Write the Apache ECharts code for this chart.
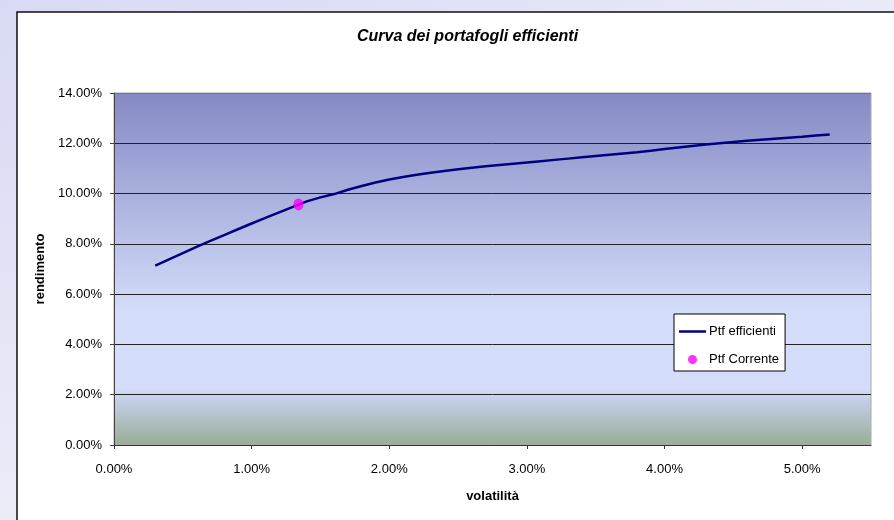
<!DOCTYPE html>
<html>
<head>
<meta charset="utf-8">
<script src="https://cdn.jsdelivr.net/npm/echarts@6/dist/echarts.min.js"></script>
<style>
  html, body { margin: 0; padding: 0; }
  #chart { width: 894px; height: 520px; }
</style>
</head>
<body>
<div id="chart"></div>
<script>
// frontiera efficiente (valori in %)
var volatilita = [0.3, 0.4, 0.5, 0.6, 0.7, 0.8, 0.9, 1.0, 1.1, 1.2, 1.3, 1.4, 1.5, 1.6, 1.7, 1.8, 1.9, 2.0,
  2.1, 2.2, 2.3, 2.4, 2.5, 2.6, 2.7, 2.8, 2.9, 3.0, 3.1, 3.2, 3.3, 3.4, 3.5, 3.6, 3.7, 3.8, 3.9, 4.0,
  4.1, 4.2, 4.3, 4.4, 4.5, 4.6, 4.7, 4.8, 4.9, 5.0, 5.1, 5.2];
var rendimento = [7.13, 7.38, 7.63, 7.88, 8.12, 8.35, 8.58, 8.81, 9.03, 9.25, 9.47, 9.69, 9.85, 9.98, 10.15, 10.30, 10.44, 10.56,
  10.66, 10.75, 10.83, 10.90, 10.97, 11.03, 11.09, 11.14, 11.19, 11.24, 11.29, 11.34, 11.39, 11.44, 11.49, 11.54, 11.59, 11.64, 11.70, 11.77,
  11.83, 11.89, 11.95, 12.00, 12.05, 12.10, 12.14, 12.18, 12.22, 12.26, 12.31, 12.35];

// portafoglio corrente
var corrente = [1.34, 9.57];

var xTicks = [0, 1, 2, 3, 4, 5];
var yGridColors = ['#222', '#222', '#222', '#222', '#222', '#222', '#222', '#777'];

var punti = [];
for (var i = 0; i < volatilita.length; i++) {
  punti.push([volatilita[i], rendimento[i]]);
}

function perc(v) { return v.toFixed(2) + '%'; }

var chart = echarts.init(document.getElementById('chart'));
chart.setOption({
  animation: false,
  backgroundColor: {
    type: 'linear', x: 0, y: 0, x2: 0.3, y2: 1,
    colorStops: [{offset: 0, color: '#d8d9f4'}, {offset: 1, color: '#f1f1fa'}]
  },
  textStyle: { fontFamily: 'Liberation Sans, Arial, sans-serif' },
  graphic: [{
    type: 'rect', z: -1,
    shape: { x: 17, y: 12, width: 900, height: 520 },
    style: { fill: '#fff', stroke: '#111', lineWidth: 1.5 }
  }],
  title: {
    text: 'Curva dei portafogli efficienti',
    left: 357, top: 29, padding: 0,
    textStyle: { fontSize: 16, fontWeight: 'bold', fontStyle: 'italic', color: '#000' }
  },
  legend: {
    orient: 'vertical',
    left: 674, top: 314,
    padding: [11, 6, 5, 5],
    itemGap: 15,
    itemWidth: 27, itemHeight: 9,
    backgroundColor: '#fff',
    borderColor: '#000', borderWidth: 1, borderRadius: 0,
    textStyle: { fontSize: 13, color: '#000', padding: [0, 0, 0, -2] },
    data: [
      { name: 'Ptf efficienti', icon: 'path://M0,0 L27,0 L27,2.5 L0,2.5 Z', itemStyle: { color: '#000080' } },
      { name: 'Ptf Corrente' }
    ]
  },
  grid: {
    left: 114, right: 23, top: 93, bottom: 75,
    show: true,
    borderColor: '#aaa', borderWidth: 1,
    backgroundColor: {
      type: 'linear', x: 0, y: 0, x2: 0, y2: 1,
      colorStops: [
        {offset: 0, color: '#8589c4'},
        {offset: 0.62, color: '#d3ddfa'},
        {offset: 0.84, color: '#d3ddfa'},
        {offset: 0.87, color: '#c4cfe8'},
        {offset: 1, color: '#98ad96'}
      ]
    }
  },
  xAxis: {
    type: 'value', min: 0, max: 5.5,
    name: 'volatilità', nameLocation: 'middle', nameGap: 45,
    nameTextStyle: { fontSize: 13, fontWeight: 'bold', color: '#000' },
    axisLine: { lineStyle: { color: '#333', width: 1 } },
    axisTick: { customValues: xTicks, length: 4, lineStyle: { color: '#333' } },
    axisLabel: { customValues: xTicks, margin: 18, fontSize: 13, color: '#000', formatter: perc },
    splitLine: { show: false }
  },
  yAxis: {
    type: 'value', min: 0, max: 14, interval: 2,
    name: 'rendimento', nameLocation: 'middle', nameGap: 65, nameRotate: 90,
    nameTextStyle: { fontSize: 13, fontWeight: 'bold', color: '#000' },
    axisLine: { show: true, lineStyle: { color: '#444', width: 1 } },
    axisTick: { show: true, length: 4, lineStyle: { color: '#444' } },
    axisLabel: { margin: 12, fontSize: 13, color: '#000', formatter: perc },
    splitLine: { show: true, lineStyle: { color: yGridColors, width: 1 } }
  },
  series: [{
    name: 'Ptf efficienti',
    type: 'line',
    data: punti,
    symbol: 'none',
    lineStyle: { color: '#000080', width: 2.5 },
    itemStyle: { color: '#000080' },
    z: 3
  }, {
    name: 'Ptf Corrente',
    type: 'scatter',
    data: [corrente],
    symbol: 'circle',
    symbolSize: [10, 12],
    itemStyle: { color: '#ff00ff' },
    z: 4
  }]
});
</script>
</body>
</html>
